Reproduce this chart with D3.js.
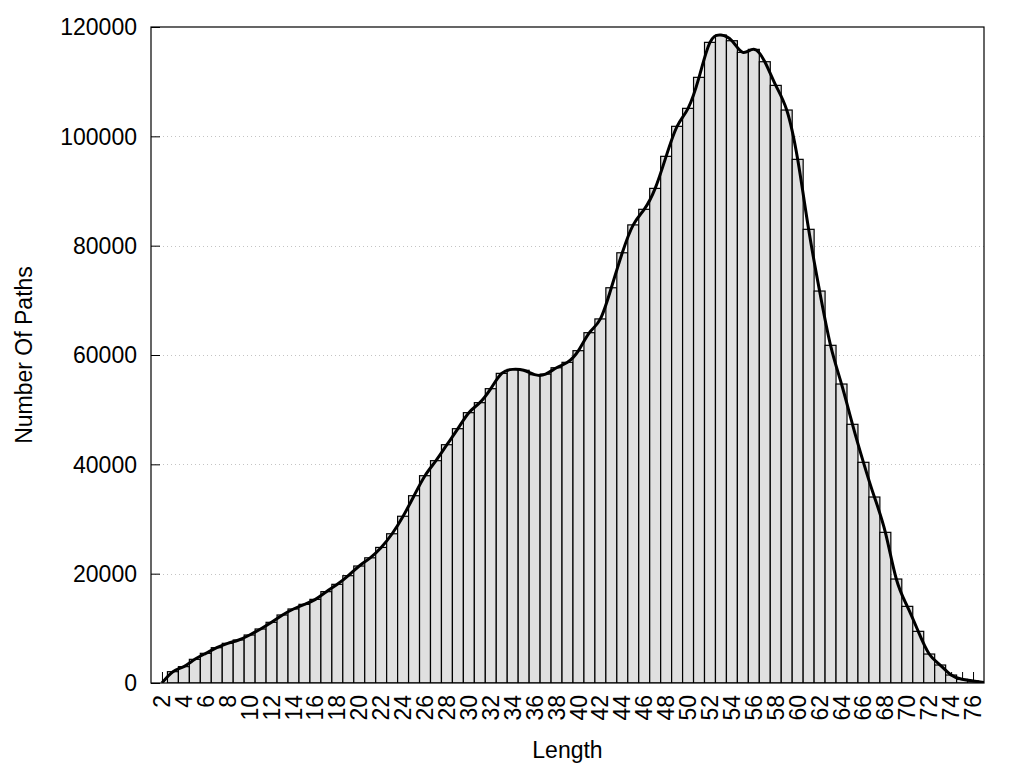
<!DOCTYPE html>
<html>
<head>
<meta charset="utf-8">
<script src="https://cdn.jsdelivr.net/npm/d3@7"></script>
<style>
  html, body { margin: 0; padding: 0; background: #fff; }
  svg { display: block; font-family: "Liberation Sans", Arial, sans-serif; }
</style>
</head>
<body>
<svg id="chart" width="1024" height="768"></svg>
<script>
// ---- data ----
const lengths = [2,3,4,5,6,7,8,9,10,11,12,13,14,15,16,17,18,19,20,21,22,23,24,25,26,27,28,29,30,31,32,33,34,35,36,37,38,39,40,41,42,43,44,45,46,47,48,49,50,51,52,53,54,55,56,57,58,59,60,61,62,63,64,65,66,67,68,69,70,71,72,73,74,75,76,77];
const pathCounts = [0,2070,2990,4330,5430,6460,7260,7870,8780,9880,11100,12440,13540,14390,15300,16710,18050,19630,21400,22900,24800,27300,30500,34260,37920,40670,43590,46520,49450,51280,53840,56640,57370,57200,56400,56500,57670,58660,60790,64080,66600,72300,78700,83800,86650,90480,96340,101830,105120,110790,117190,118530,117490,115360,115910,113650,109320,104810,95790,82990,71700,61770,54690,47320,40370,34020,27560,19020,14020,9450,5300,3290,1460,670,370,100];
const yTickValues = [0,20000,40000,60000,80000,100000,120000];
const xTickLabels = [2,4,6,8,10,12,14,16,18,20,22,24,26,28,30,32,34,36,38,40,42,44,46,48,50,52,54,56,58,60,62,64,66,68,70,72,74,76];
const xDomain = [1, 77];
const yDomain = [0, 120000];

// ---- layout ----
const L = 151, R = 984, T = 27, B = 683;
const svg = d3.select("#chart");
const x = d3.scaleLinear().domain(xDomain).range([L, R]);
const y = d3.scaleLinear().domain(yDomain).range([B, T]);

svg.append("defs").append("clipPath").attr("id", "plotclip")
  .append("rect").attr("x", L).attr("y", T).attr("width", R - L).attr("height", B - T);

// grid lines (dotted)
svg.append("g").selectAll("line").data(yTickValues.filter(v => v > 0 && v < 120000)).join("line")
  .attr("x1", L).attr("x2", R)
  .attr("y1", d => Math.round(y(d)) + 0.5).attr("y2", d => Math.round(y(d)) + 0.5)
  .attr("stroke", "#c4c4c4").attr("stroke-width", 1).attr("stroke-dasharray", "1,3");

// x ticks at each integer (behind bars)
const xAxis = d3.axisBottom(x).tickValues(lengths.filter(v => v <= 76)).tickSize(-11).tickFormat("");
const gx = svg.append("g").attr("transform", `translate(0,${B})`).call(xAxis);
gx.select(".domain").remove();
gx.selectAll(".tick line").attr("stroke", "#000");

// bars
const bw = x(1) - x(0);
svg.append("g").attr("clip-path", "url(#plotclip)")
  .selectAll("rect").data(lengths.map((l, i) => ({l, v: pathCounts[i]}))).join("rect")
  .attr("x", d => x(d.l - 0.5))
  .attr("y", d => y(d.v))
  .attr("width", bw)
  .attr("height", d => B - y(d.v))
  .attr("fill", "#e0e0e0")
  .attr("stroke", "#000")
  .attr("stroke-width", 1.2);

// smooth curve
const line = d3.line().x((d, i) => x(lengths[i])).y(d => y(d)).curve(d3.curveNatural);
svg.append("path").datum(pathCounts)
  .attr("clip-path", "url(#plotclip)")
  .attr("d", line)
  .attr("fill", "none")
  .attr("stroke", "#000")
  .attr("stroke-width", 3)
  .attr("stroke-linejoin", "round");

// y axis ticks + labels
const yAxis = d3.axisLeft(y).tickValues(yTickValues).tickSize(-9).tickPadding(14).tickFormat(d3.format("d"));
const gy = svg.append("g").attr("transform", `translate(${L},0)`).call(yAxis);
gy.select(".domain").remove();
gy.selectAll(".tick line").attr("stroke", "#000");
gy.selectAll(".tick text").attr("font-size", 23).attr("fill", "#000")
  .attr("font-family", "Liberation Sans, Arial, sans-serif").attr("dy", "0.34em");

// x tick labels (rotated)
svg.append("g").selectAll("text").data(xTickLabels).join("text")
  .attr("transform", d => `translate(${x(d)},${B + 12}) rotate(-90)`)
  .attr("text-anchor", "end")
  .attr("dy", "0.35em")
  .attr("font-size", 23)
  .attr("fill", "#000")
  .text(d => d);

// border
svg.append("rect").attr("x", L).attr("y", T).attr("width", R - L).attr("height", B - T)
  .attr("fill", "none").attr("stroke", "#000").attr("stroke-width", 1.2);

// axis titles
svg.append("text").attr("x", (L + R) / 2).attr("y", 758)
  .attr("text-anchor", "middle").attr("font-size", 23).attr("fill", "#000").text("Length");
svg.append("text").attr("transform", `translate(32,${(T + B) / 2}) rotate(-90)`)
  .attr("text-anchor", "middle").attr("font-size", 23).attr("fill", "#000").text("Number Of Paths");
</script>
</body>
</html>
